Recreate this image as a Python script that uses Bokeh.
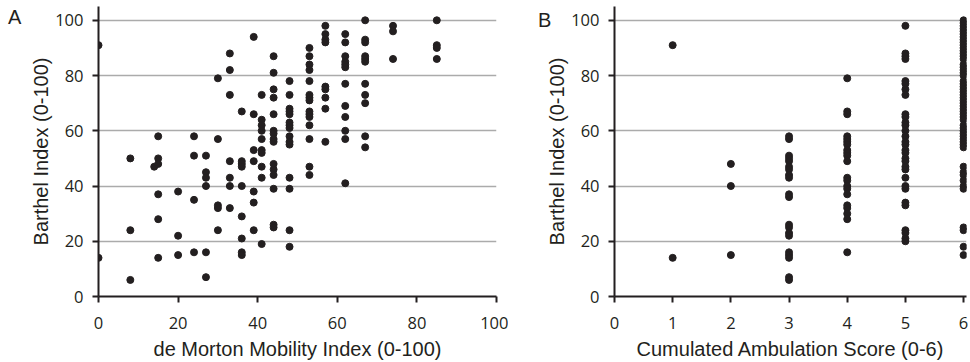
from bokeh.plotting import figure
from bokeh.layouts import row
from bokeh.models import Range1d, FixedTicker, Div
from bokeh.embed import file_html
from bokeh.resources import INLINE

# ---- Panel A: de Morton Mobility Index vs Barthel Index ----
dmmi = (
    [0, 0]
    + [8, 8, 8]
    + [14]
    + [15, 15, 15, 15, 15, 15]
    + [20, 20, 20]
    + [24, 24, 24, 24]
    + [27, 27, 27, 27, 27, 27]
    + [30, 30, 30, 30, 30]
    + [33, 33, 33, 33, 33, 33, 33]
    + [36, 36, 36, 36, 36, 36, 36, 36, 36]
    + [39, 39, 39, 39, 39, 39, 39]
    + [41, 41, 41, 41, 41, 41, 41, 41, 41, 41]
    + [44] * 15
    + [48] * 15
    + [53] * 15
    + [57] * 9
    + [62] * 12
    + [67] * 11
    + [74, 74, 74]
    + [85, 85, 85, 85]
)
barthel_a = (
    [91, 14]
    + [50, 24, 6]
    + [47]
    + [58, 50, 48, 37, 28, 14]
    + [38, 22, 15]
    + [58, 51, 35, 16]
    + [51, 45, 43, 40, 16, 7]
    + [79, 57, 33, 32, 24]
    + [88, 82, 73, 49, 43, 40, 32]
    + [67, 49, 48, 47, 40, 29, 21, 16, 15]
    + [94, 66, 53, 49, 38, 34, 24]
    + [73, 64, 62, 60, 57, 53, 52, 47, 43, 19]
    + [87, 81, 75, 72, 66, 60, 59, 57, 56, 48, 46, 44, 39, 26, 25]
    + [78, 73, 68, 67, 66, 63, 62, 61, 58, 56, 55, 43, 39, 24, 18]
    + [90, 87, 84, 82, 78, 73, 72, 71, 67, 66, 65, 62, 57, 47, 44]
    + [98, 95, 93, 92, 76, 75, 72, 68, 56]
    + [95, 92, 87, 85, 84, 83, 77, 69, 65, 60, 57, 41]
    + [100, 93, 92, 87, 86, 85, 77, 73, 70, 58, 54]
    + [98, 96, 86]
    + [100, 91, 90, 86]
)

# ---- Panel B: Cumulated Ambulation Score vs Barthel Index ----
cas_1 = [91, 14]
cas_2 = [48, 40, 15]
cas_3 = [58, 57, 51, 50, 49, 47, 46, 44, 43, 37, 36, 26, 25, 23, 22, 16, 15, 14, 7, 6]
cas_4 = [79, 67, 66, 58, 57, 56, 55, 53, 52, 51, 49, 43, 42, 40, 39, 37, 33, 32, 30, 28, 16]
cas_5 = [98, 88, 87, 86, 78, 77, 75, 73, 66, 65, 63, 62, 60, 58, 56, 55, 53, 52, 50, 49,
         47, 46, 43, 40, 39, 34, 33, 24, 23, 21, 20]
cas_6 = [100, 99, 98, 97, 96, 95, 94, 93, 92, 91, 90, 89, 88, 87, 86, 84, 83, 82, 81, 80,
         78, 77, 76, 75, 74, 73, 72, 71, 70, 69, 68, 67, 66, 65, 64, 62, 61, 60, 59, 58,
         57, 56, 55, 54, 47, 45, 44, 42, 40, 39, 25, 24, 18, 15]
cas_groups = [(1, cas_1), (2, cas_2), (3, cas_3), (4, cas_4), (5, cas_5), (6, cas_6)]
cas = [s for s, vals in cas_groups for _ in vals]
barthel_b = [v for s, vals in cas_groups for v in vals]

y_ticks = [0, 20, 40, 60, 80, 100]
grid_ticks = [20, 40, 60, 80, 100]
a_x_ticks = [0, 20, 40, 60, 80, 100]
b_x_ticks = [0, 1, 2, 3, 4, 5, 6]
panel_letters = ["A", "B"]

INK = "#231f20"
TICK_FONT = "Open Sans"
TITLE_FONT = "Liberation Sans"


def make_fig(width, left, right, xr, xticks, xlabel):
    p = figure(width=width, height=362, output_backend="svg", toolbar_location=None,
               x_range=Range1d(*xr), y_range=Range1d(0, 105),
               min_border_left=left, min_border_right=right,
               min_border_top=6, min_border_bottom=66)
    p.outline_line_color = None
    p.background_fill_color = "white"
    p.border_fill_color = None
    p.xgrid.visible = False
    p.ygrid.ticker = FixedTicker(ticks=grid_ticks)
    p.ygrid.grid_line_color = "#ababab"
    p.ygrid.grid_line_width = 1.5
    p.xaxis.ticker = FixedTicker(ticks=xticks)
    p.yaxis.ticker = FixedTicker(ticks=y_ticks)
    for ax in (p.xaxis, p.yaxis):
        ax.axis_line_color = INK
        ax.axis_line_width = 2
        ax.major_tick_line_color = INK
        ax.major_tick_line_width = 2
        ax.major_tick_in = 0
        ax.major_tick_out = 6
        ax.minor_tick_line_color = None
        ax.major_label_text_font = TICK_FONT
        ax.major_label_text_font_size = "16.5px"
        ax.major_label_text_color = INK
        ax.axis_label_text_font = TITLE_FONT
        ax.axis_label_text_font_size = "20px"
        ax.axis_label_text_font_style = "normal"
        ax.axis_label_text_color = INK
    p.xaxis.major_label_standoff = 14
    p.xaxis.axis_label_standoff = 6
    p.yaxis.major_label_standoff = 9
    p.yaxis.axis_label_standoff = 0
    p.xaxis.axis_label = xlabel
    p.yaxis.axis_label = "Barthel Index (0-100)"
    return p


def letter_div(letter, width, left, top):
    html = ('<div style="position:absolute;left:%dpx;top:%dpx;font-family:\'Liberation Sans\';'
            'font-size:20px;line-height:normal;color:%s;white-space:nowrap">%s</div>'
            % (left, top, INK, letter))
    return Div(text=html, width=width, height=362, margin=(0, 0, 0, 0))


pa = make_fig(482, 72, 12, (0, 100), a_x_ticks, "de Morton Mobility Index (0-100)")
pa.scatter(dmmi, barthel_a, size=7, color=INK)

pb = make_fig(428, 72, 4, (0, 6.05), b_x_ticks, "Cumulated Ambulation Score (0-6)")
pb.scatter(cas, barthel_b, size=7, color=INK)

div_a = letter_div(panel_letters[0], 26, 8, 6)
div_b = letter_div(panel_letters[1], 34, 30, 9)

layout = row(div_a, pa, div_b, pb, spacing=0)
open("out.html", "w").write(file_html(layout, INLINE))
